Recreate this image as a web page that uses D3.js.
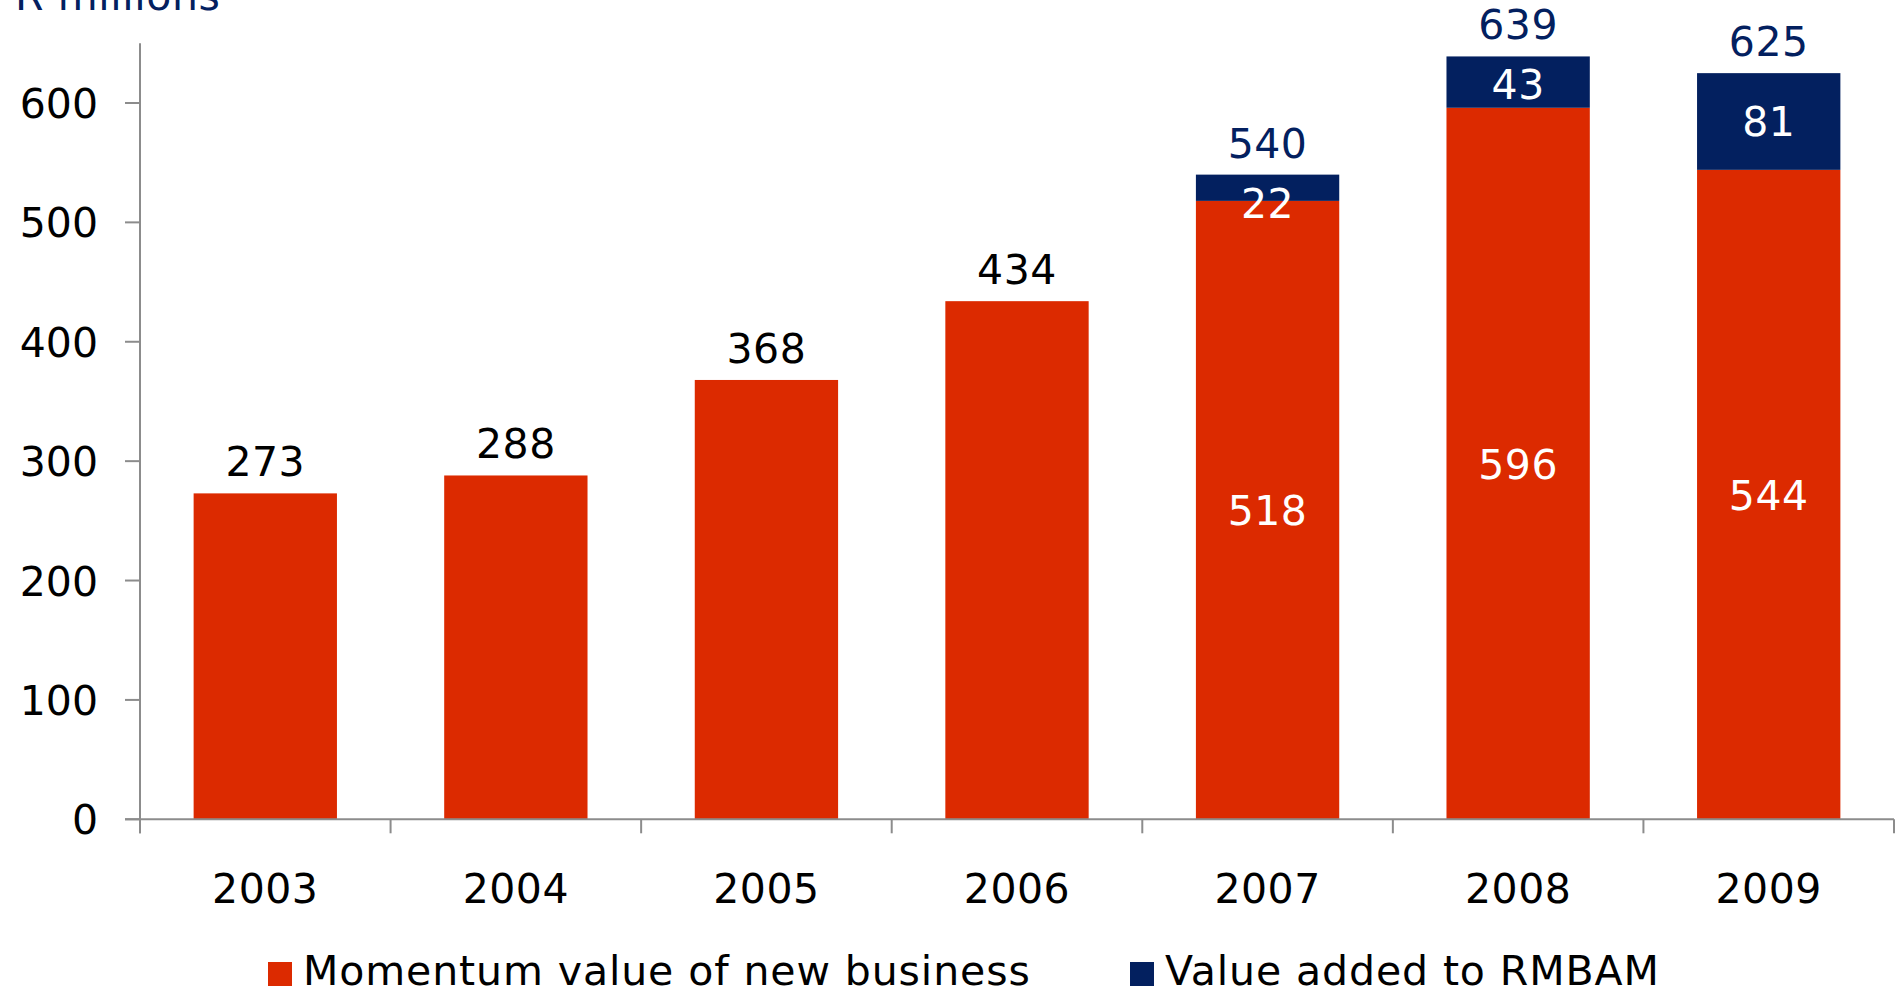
<!DOCTYPE html>
<html>
<head>
<meta charset="utf-8">
<script src="https://cdn.jsdelivr.net/npm/d3@7"></script>
<style>
  html, body { margin: 0; padding: 0; background: #ffffff; overflow: hidden; }
  svg { display: block; font-family: "DejaVu Sans", Verdana, sans-serif; }
</style>
</head>
<body>
<svg id="chart" width="1900" height="993"></svg>
<script>
// Value of new business, R millions
const years = ["2003", "2004", "2005", "2006", "2007", "2008", "2009"];
const momentumValues = [273, 288, 368, 434, 518, 596, 544];
const rmbamValues = [0, 0, 0, 0, 22, 43, 81];
const yTicks = [0, 100, 200, 300, 400, 500, 600];
const seriesNames = ["Momentum value of new business", "Value added to RMBAM"];
const unitLabel = "R millions";

const RED = "#DC2A00";
const NAVY = "#03205F";
const AXIS = "#8C8C8C";
const FONT = 41;

const svg = d3.select("#chart");

const x = d3.scaleBand()
  .domain(years)
  .range([140, 1894])
  .paddingInner(0.428)
  .paddingOuter(0.214);

const y = d3.scaleLinear()
  .domain([0, 650])
  .range([819.3, 43.3]);

const rows = years.map((yr, i) => ({
  year: yr,
  momentum: momentumValues[i],
  rmbam: rmbamValues[i],
  total: momentumValues[i] + rmbamValues[i]
}));

// Momentum segment
svg.append("g").selectAll("rect")
  .data(rows)
  .join("rect")
  .attr("x", d => x(d.year))
  .attr("width", x.bandwidth())
  .attr("y", d => y(d.momentum))
  .attr("height", d => y(0) - y(d.momentum))
  .attr("fill", RED);

// RMBAM segment stacked on top
svg.append("g").selectAll("rect")
  .data(rows.filter(d => d.rmbam > 0))
  .join("rect")
  .attr("x", d => x(d.year))
  .attr("width", x.bandwidth())
  .attr("y", d => y(d.total))
  .attr("height", d => y(d.momentum) - y(d.total))
  .attr("fill", NAVY);

// Axes
const axisG = svg.append("g").attr("stroke", AXIS).attr("stroke-width", 2);
axisG.append("line")
  .attr("x1", 140).attr("x2", 140)
  .attr("y1", y(650)).attr("y2", y(0) + 14);
axisG.append("line")
  .attr("x1", 125).attr("x2", 1894)
  .attr("y1", y(0)).attr("y2", y(0));
axisG.selectAll("line.ytick")
  .data(yTicks)
  .join("line")
  .attr("class", "ytick")
  .attr("x1", 125).attr("x2", 140)
  .attr("y1", d => y(d)).attr("y2", d => y(d));
const xBounds = years.map(yr => x(yr) - x.step() * x.paddingInner() / 2).concat([1894]);
axisG.selectAll("line.xtick")
  .data(xBounds)
  .join("line")
  .attr("class", "xtick")
  .attr("x1", d => d).attr("x2", d => d)
  .attr("y1", y(0)).attr("y2", y(0) + 14);

// Y tick labels
svg.append("g").selectAll("text")
  .data(yTicks)
  .join("text")
  .attr("x", 98)
  .attr("y", d => y(d) + 15)
  .attr("text-anchor", "end")
  .attr("font-size", FONT)
  .attr("fill", "#000")
  .text(d => d);

// Year labels
svg.append("g").selectAll("text")
  .data(years)
  .join("text")
  .attr("x", d => x(d) + x.bandwidth() / 2)
  .attr("y", 902.7)
  .attr("text-anchor", "middle")
  .attr("font-size", FONT)
  .attr("letter-spacing", 0.5)
  .attr("fill", "#000")
  .text(d => d);

// Unit label
svg.append("text")
  .attr("x", 15)
  .attr("y", 10)
  .attr("font-size", FONT)
  .attr("letter-spacing", 0.6)
  .attr("fill", NAVY)
  .text(unitLabel);

// Total labels above bars
svg.append("g").selectAll("text")
  .data(rows)
  .join("text")
  .attr("x", d => x(d.year) + x.bandwidth() / 2)
  .attr("y", d => y(d.total) - 17)
  .attr("text-anchor", "middle")
  .attr("font-size", FONT)
  .attr("letter-spacing", 0.5)
  .attr("fill", d => d.rmbam > 0 ? NAVY : "#000")
  .text(d => d.total);

// Segment labels inside stacked bars
const stacked = rows.filter(d => d.rmbam > 0);
svg.append("g").selectAll("text.mom")
  .data(stacked)
  .join("text")
  .attr("class", "mom")
  .attr("x", d => x(d.year) + x.bandwidth() / 2)
  .attr("y", d => (y(d.momentum) + y(0)) / 2 + 15)
  .attr("text-anchor", "middle")
  .attr("font-size", FONT)
  .attr("letter-spacing", 0.5)
  .attr("fill", "#fff")
  .text(d => d.momentum);
svg.append("g").selectAll("text.rm")
  .data(stacked)
  .join("text")
  .attr("class", "rm")
  .attr("x", d => x(d.year) + x.bandwidth() / 2)
  .attr("y", d => Math.max((y(d.total) + y(d.momentum)) / 2 + 15, y(d.total) + 43))
  .attr("text-anchor", "middle")
  .attr("font-size", FONT)
  .attr("letter-spacing", 0.5)
  .attr("fill", "#fff")
  .text(d => d.rmbam);

// Legend
const legendItems = [
  { name: seriesNames[0], color: RED, x: 268 },
  { name: seriesNames[1], color: NAVY, x: 1130 }
];
const lg = svg.append("g").selectAll("g")
  .data(legendItems)
  .join("g");
lg.append("rect")
  .attr("x", d => d.x)
  .attr("y", 962)
  .attr("width", 24)
  .attr("height", 24)
  .attr("fill", d => d.color);
lg.append("text")
  .attr("x", d => d.x + 35)
  .attr("y", 985)
  .attr("font-size", FONT)
  .attr("letter-spacing", 0.9)
  .attr("fill", "#000")
  .text(d => d.name);
</script>
</body>
</html>
